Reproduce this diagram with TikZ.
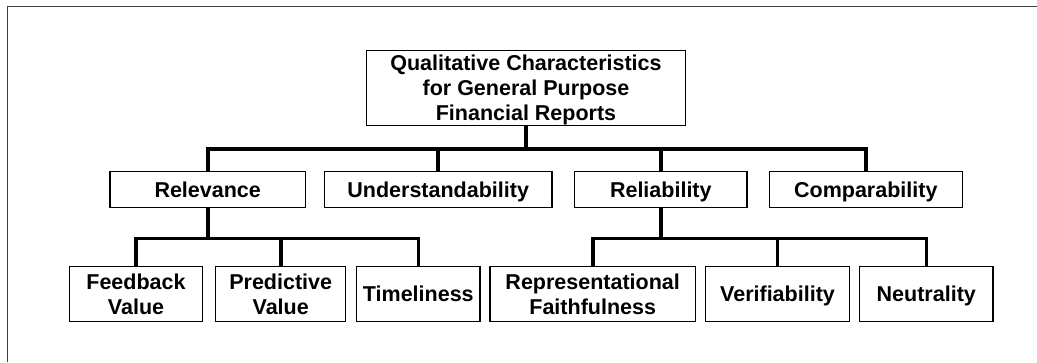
\documentclass[tikz,border=0pt]{standalone}
\usepackage{fontspec}
\setmainfont{Liberation Sans}
\begin{document}
\begin{tikzpicture}[x=1pt,y=-1pt,
  box/.style={draw=black, line width=1.2pt, fill=white, inner sep=0pt,
    align=center, text depth=0pt, font=\fontsize{21.5}{24.8}\selectfont\bfseries},
  conn/.style={draw=black, line width=3.6pt, line cap=butt, line join=miter},
  frameline/.style={draw=black!75, line width=1.5pt}]
\useasboundingbox (0,0) rectangle (1037,362);

% outer frame (top and left sides)
\draw[frameline] (7.5,362) -- (7.5,6.5) -- (1037,6.5);

% root
\node[box, minimum width=318.6pt, minimum height=74.6pt] (root) at (526,88)
  {Qualitative Characteristics\\for General Purpose\\Financial Reports};

% second level
\node[box, minimum width=195.3pt, minimum height=35.6pt] (rel)  at (207.7,189.5) {Relevance};
\node[box, minimum width=227.7pt, minimum height=35.6pt] (und)  at (438.2,189.5) {Understandability};
\node[box, minimum width=172.3pt, minimum height=35.6pt] (reli) at (660.8,189.5) {Reliability};
\node[box, minimum width=193pt,   minimum height=35.6pt] (comp) at (865.8,189.5) {Comparability};

% third level
\node[box, minimum width=133.4pt, minimum height=55pt] (feed) at (136,294.2)   {Feedback\\Value};
\node[box, minimum width=130pt,   minimum height=55pt] (pred) at (280.7,294.2) {Predictive\\Value};
\node[box, minimum width=123.3pt, minimum height=55pt] (time) at (418.3,294.2) {Timeliness};
\node[box, minimum width=205.3pt, minimum height=55pt] (repr) at (592.7,294.2) {Representational\\Faithfulness};
\node[box, minimum width=143.6pt, minimum height=55pt] (veri) at (777.5,294.2) {Verifiability};
\node[box, minimum width=133.3pt, minimum height=55pt] (neut) at (926.3,294.2) {Neutrality};

% bus junctions
\coordinate (b0) at (526,149);
\coordinate (b1) at (207.7,238.3);
\coordinate (b2) at (660.8,238.3);

% root to second level
\draw[conn] (root.south) -- (b0);
\draw[conn] (rel.north) |- (b0) -| (comp.north);
\draw[conn] (und.north) -- (und.north |- b0);
\draw[conn] (reli.north) -- (reli.north |- b0);

% relevance to its components
\draw[conn] (rel.south) -- (b1);
\draw[conn] (feed.north) |- (b1) -| (time.north);
\draw[conn] (pred.north) -- (pred.north |- b1);

% reliability to its components
\draw[conn] (reli.south) -- (b2);
\draw[conn] (repr.north) |- (b2) -| (neut.north);
\draw[conn] (veri.north) -- (veri.north |- b2);
\end{tikzpicture}
\end{document}
